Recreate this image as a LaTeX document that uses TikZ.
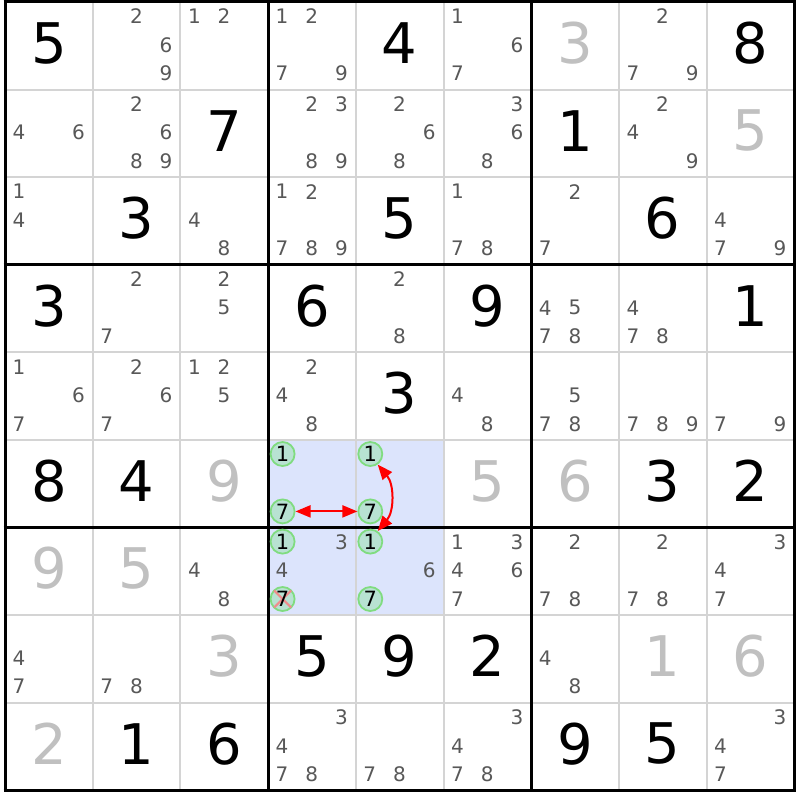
\documentclass[tikz,border=0pt]{standalone}
\usepackage{fontspec}
\setmainfont{DejaVu Sans}
\usetikzlibrary{arrows.meta,calc}
\definecolor{candc}{HTML}{585858}
\definecolor{solvedc}{HTML}{C0C0C0}
\definecolor{hlc}{HTML}{DCE4FC}
\definecolor{thinc}{HTML}{D4D4D4}
\definecolor{ringfillc}{HTML}{B8E2D2}
\definecolor{ringdrawc}{HTML}{80DC80}
\definecolor{crossc}{HTML}{F08C8C}
\tikzset{
  givend/.style={font=\fontsize{56}{56}\selectfont, text=black, inner sep=0pt},
  solvedd/.style={givend, text=solvedc},
  candd/.style={font=\fontsize{20}{20}\selectfont, text=candc, inner sep=0pt},
  ring/.style={circle, draw=ringdrawc, fill=ringfillc, line width=1.8pt, minimum size=24pt, inner sep=0pt},
  ringtxt/.style={font=\fontsize{21}{21}\selectfont, text=black, inner sep=0pt},
  link/.style={red, line width=2pt, {Triangle[length=15pt,width=12pt]}-{Triangle[length=15pt,width=12pt]}},
  crossline/.style={crossc, line width=2.2pt},
  thinline/.style={thinc, line width=2pt},
  thickline/.style={black, line width=3pt},
}
\begin{document}
\begin{tikzpicture}[x=1pt,y=-1pt]
\useasboundingbox (0,0) rectangle (800,800);
\fill[white] (0,0) rectangle (800,800);
% highlight
\fill[hlc] (268.1,440.2) rectangle (443.5,615.4);
% thin lines
\foreach \i in {1,2,4,5,7,8} {
  \draw[thinline] ({5+87.7*\i},2) -- ({5+87.7*\i},790.4);
  \draw[thinline] (5,{2+87.6*\i}) -- (794.3,{2+87.6*\i});
}
\foreach \i in {0,3,6,9} {
  \draw[thickline] ({5+87.7*\i},0.5) -- ({5+87.7*\i},791.9);
  \draw[thickline] (3.5,{2+87.6*\i}) -- (795.8,{2+87.6*\i});
}
% givens
\foreach \r/\c/\d in {0/0/5,0/4/4,0/8/8,1/2/7,1/6/1,2/1/3,2/4/5,2/7/6,3/0/3,3/3/6,3/5/9,3/8/1,4/4/3,5/0/8,5/1/4,5/7/3,5/8/2,7/3/5,7/4/9,7/5/2,8/1/1,8/2/6,8/6/9,8/7/5} {
  \node[givend] (g\r\c) at ({5+87.7*\c+43.85},{2+87.6*\r+41}) {\d};
}
\foreach \r/\c/\d in {0/6/3,1/8/5,5/2/9,5/5/5,5/6/6,6/0/9,6/1/5,7/2/3,7/7/1,7/8/6,8/0/2} {
  \node[solvedd] (g\r\c) at ({5+87.7*\c+43.85},{2+87.6*\r+41}) {\d};
}
% candidates
\foreach \r/\c/\ds in {0/1/{2,6,9},0/2/{1,2},0/3/{1,2,7,9},0/5/{1,6,7},0/7/{2,7,9},
  1/0/{4,6},1/1/{2,6,8,9},1/3/{2,3,8,9},1/4/{2,6,8},1/5/{3,6,8},1/7/{2,4,9},
  2/0/{1,4},2/2/{4,8},2/3/{1,2,7,8,9},2/5/{1,7,8},2/6/{2,7},2/8/{4,7,9},
  3/1/{2,7},3/2/{2,5},3/4/{2,8},3/6/{4,5,7,8},3/7/{4,7,8},
  4/0/{1,6,7},4/1/{2,6,7},4/2/{1,2,5},4/3/{2,4,8},4/5/{4,8},4/6/{5,7,8},4/7/{7,8,9},4/8/{7,9},
  6/2/{4,8},6/3/{3,4},6/4/{6},6/5/{1,3,4,6,7},6/6/{2,7,8},6/7/{2,7,8},6/8/{3,4,7},
  7/0/{4,7},7/1/{7,8},7/6/{4,8},
  8/3/{3,4,7,8},8/4/{7,8},8/5/{3,4,7,8},8/8/{3,4,7}} {
  \foreach \d in \ds {
    \pgfmathtruncatemacro\cc{mod(\d-1,3)}
    \pgfmathtruncatemacro\rr{div(\d-1,3)}
    \node[candd] (c\r\c\d) at ({5+87.7*\c+14+29.7*\cc},{2+87.6*\r+14.5+28.5*\rr}) {\d};
  }
}
% ringed candidates
\foreach \r/\c/\d in {5/3/1,5/3/7,5/4/1,5/4/7,6/3/1,6/3/7,6/4/1,6/4/7} {
  \pgfmathtruncatemacro\cc{mod(\d-1,3)}
  \pgfmathtruncatemacro\rr{div(\d-1,3)}
  \node[ring] (r\r\c\d) at ({5+87.7*\c+14.5+29.7*\cc},{2+87.6*\r+14+28.7*\rr}) {};
}
\draw[crossline] ($(r637)+(-8.5,-8.5)$) -- ($(r637)+(8.5,8.5)$);
\draw[crossline] ($(r637)+(-8.5,8.5)$) -- ($(r637)+(8.5,-8.5)$);
\foreach \n/\d in {r531/1,r537/7,r541/1,r547/7,r631/1,r637/7,r641/1,r647/7} {
  \node[ringtxt] (t\n) at (\n) {\d};
}
% links
\draw[link] (r537.east) -- (r547.west);
\draw[link] (r541.-55) to[bend left=40] (r641.55);
\end{tikzpicture}
\end{document}
